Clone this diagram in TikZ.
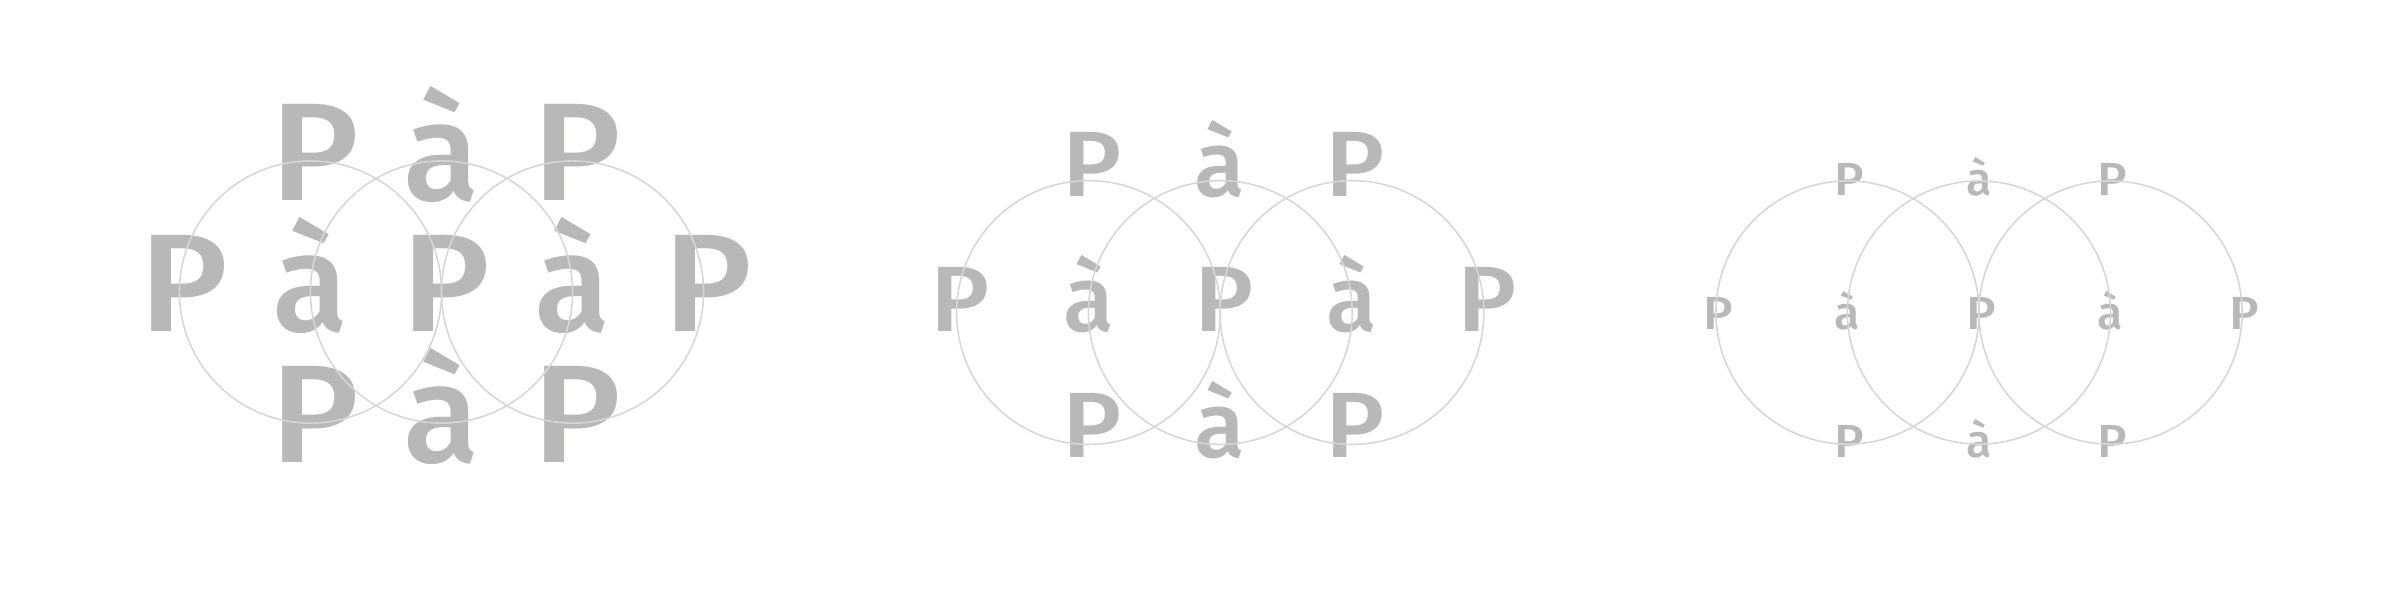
\documentclass[tikz,border=0pt]{standalone}
\usepackage{fontspec}
\setmainfont{Fira Sans Medium}
\newfontfamily\widep{Fira Sans Medium}[FakeStretch=1.08]
\begin{document}
\begin{tikzpicture}[x=0.01cm,y=-0.01cm]
\definecolor{glyph}{RGB}{184,184,182}
\definecolor{ringc}{RGB}{214,214,214}
\tikzset{
  ring/.style={circle, draw=ringc, line width=0.45pt, inner sep=0pt},
  glyphnode/.style={text=glyph, inner sep=0pt, anchor=base},
  bigtxt/.style={glyphnode, font=\fontsize{39.6}{40}\selectfont},
  midtxt/.style={glyphnode, font=\fontsize{26.4}{27}\selectfont},
  smalltxt/.style={glyphnode, font=\fontsize{13.2}{14}\selectfont},
  bigp/.style={glyphnode, font=\widep\fontsize{39.6}{40}\selectfont},
  midp/.style={glyphnode, font=\widep\fontsize{26.4}{27}\selectfont},
  smallp/.style={glyphnode, font=\widep\fontsize{13.2}{14}\selectfont},
}
\useasboundingbox (0,0) rectangle (2400,608);
% ---------------- group 1 ----------------
\node[bigp] (a1) at (314.5,200) {P};
\node[bigtxt] (a2) at (441.5,200) {à};
\node[bigp] (a3) at (576.5,200) {P};
\node[bigp] (a4) at (183.5,331) {P};
\node[bigtxt] (a5) at (310.5,331) {à};
\node[bigp] (a6) at (445.5,331) {P};
\node[bigtxt] (a7) at (572.5,331) {à};
\node[bigp] (a8) at (707.5,331) {P};
\node[bigp] (a9) at (314.5,462) {P};
\node[bigtxt] (a10) at (441.5,462) {à};
\node[bigp] (a11) at (576.5,462) {P};
\node[ring, minimum size=2.62cm] (c1) at (310.5,292) {};
\node[ring, minimum size=2.62cm] (c2) at (441.5,292) {};
\node[ring, minimum size=2.62cm] (c3) at (572.5,292) {};
% ---------------- group 2 ----------------
\node[midp] (b1) at (1092,196.5) {P};
\node[midtxt] (b2) at (1220.3,196.5) {à};
\node[midp] (b3) at (1355.5,196.5) {P};
\node[midp] (b4) at (960.2,331) {P};
\node[midtxt] (b5) at (1088.5,331) {à};
\node[midp] (b6) at (1223.8,331) {P};
\node[midtxt] (b7) at (1352,331) {à};
\node[midp] (b8) at (1487.3,331) {P};
\node[midp] (b9) at (1092,457.5) {P};
\node[midtxt] (b10) at (1220.3,457.5) {à};
\node[midp] (b11) at (1355.5,457.5) {P};
\node[ring, minimum size=2.636cm] (d1) at (1088.5,312.5) {};
\node[ring, minimum size=2.636cm] (d2) at (1220.3,312.5) {};
\node[ring, minimum size=2.636cm] (d3) at (1352,312.5) {};
% ---------------- group 3 ----------------
\node[smallp] (e1) at (1849.5,195.5) {P};
\node[smalltxt] (e2) at (1979,195.5) {à};
\node[smallp] (e3) at (2112.5,195.5) {P};
\node[smallp] (e4) at (1718,329.5) {P};
\node[smalltxt] (e5) at (1847.5,329.5) {à};
\node[smallp] (e6) at (1981,329.5) {P};
\node[smalltxt] (e7) at (2110.5,329.5) {à};
\node[smallp] (e8) at (2244,329.5) {P};
\node[smallp] (e9) at (1849.5,457.5) {P};
\node[smalltxt] (e10) at (1979,457.5) {à};
\node[smallp] (e11) at (2112.5,457.5) {P};
\node[ring, minimum size=2.63cm] (f1) at (1847.5,312.5) {};
\node[ring, minimum size=2.63cm] (f2) at (1979,312.5) {};
\node[ring, minimum size=2.63cm] (f3) at (2110.5,312.5) {};
\end{tikzpicture}
\end{document}
